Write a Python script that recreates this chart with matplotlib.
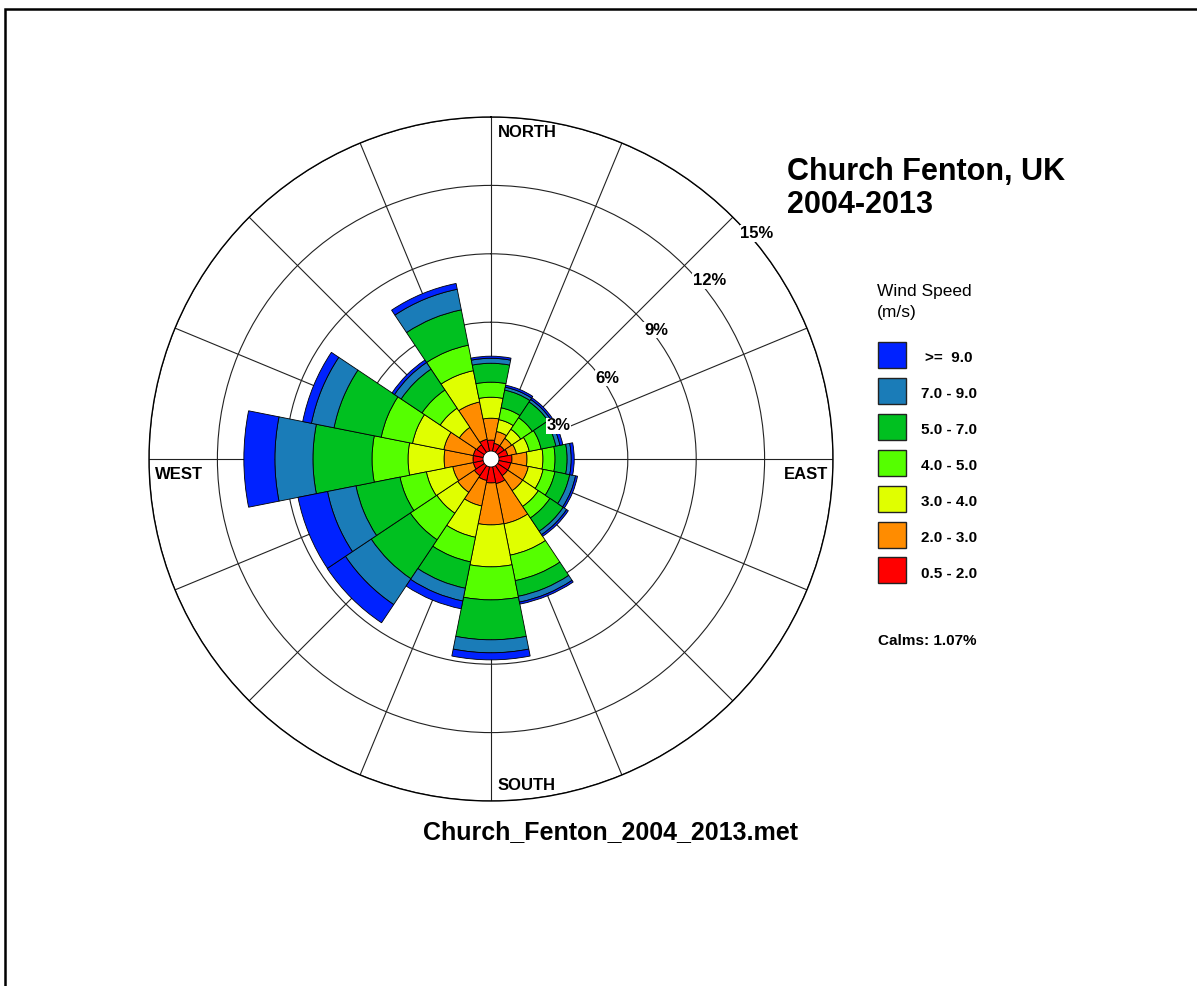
import numpy as np
import matplotlib
matplotlib.use("Agg")
import matplotlib.pyplot as plt
from matplotlib.patches import Rectangle

plt.rcParams['font.family'] = ['Liberation Sans', 'DejaVu Sans']

# wind directions, clockwise from north
directions = ["N", "NNE", "NE", "ENE", "E", "ESE", "SE", "SSE",
              "S", "SSW", "SW", "WSW", "W", "WNW", "NW", "NNW"]

# frequency (%) of each speed class per direction
freq_05_2 = [0.83, 0.70, 0.70, 0.75, 0.92, 0.88, 0.88, 1.10, 1.05, 0.96, 0.88, 0.79, 0.79, 0.79, 0.75, 0.88]
freq_2_3 = [0.96, 0.53, 0.39, 0.39, 0.66, 0.79, 0.79, 1.80, 1.84, 1.14, 0.88, 0.92, 1.27, 1.32, 0.92, 1.67]
freq_3_4 = [0.92, 0.53, 0.48, 0.57, 0.70, 0.66, 0.83, 1.40, 1.84, 1.40, 1.10, 1.18, 1.58, 1.40, 1.01, 1.40]
freq_4_5 = [0.66, 0.53, 0.61, 0.53, 0.53, 0.53, 0.61, 1.14, 1.45, 1.10, 1.40, 1.18, 1.58, 1.40, 0.96, 1.14]
freq_5_7 = [0.83, 0.79, 0.83, 0.66, 0.53, 0.66, 0.70, 0.70, 1.75, 1.18, 2.06, 1.97, 2.59, 2.11, 1.10, 1.58]
freq_7_9 = [0.22, 0.13, 0.13, 0.18, 0.18, 0.26, 0.18, 0.26, 0.57, 0.57, 1.36, 1.27, 1.67, 1.01, 0.35, 0.92]
freq_9_up = [0.09, 0.09, 0.09, 0.13, 0.13, 0.09, 0.09, 0.09, 0.31, 0.35, 0.96, 1.32, 1.36, 0.39, 0.13, 0.26]

speed_labels = ["0.5 - 2.0", "2.0 - 3.0", "3.0 - 4.0", "4.0 - 5.0",
                "5.0 - 7.0", "7.0 - 9.0", ">=  9.0"]
speed_colors = ["#ff0000", "#ff8c00", "#e0ff00", "#55ff00",
                "#00c020", "#1a7cb8", "#0022ff"]

ring_levels = [3, 6, 9, 12, 15]
calms = 1.07

W, H = 1197, 986
fig = plt.figure(figsize=(W / 100, H / 100), dpi=100)


def fx(x):
    return x / W


def fy(y):
    return 1 - y / H


# outer frame
fig.add_artist(Rectangle((fx(5), fy(1010)), fx(1220), 1001 / H, transform=fig.transFigure,
                         fill=False, edgecolor="black", linewidth=1.8))

# polar axes, centre at (491, 459) px, 15 % ring at 342 px
cx, cy, R = 491, 459, 342
ax = fig.add_axes([fx(cx - R), fy(cy + R), 2 * R / W, 2 * R / H], projection="polar")
ax.set_theta_zero_location("N")
ax.set_theta_direction(-1)
ax.set_ylim(0, 15)
ax.set_yticks(ring_levels)
ax.set_yticklabels([])
ax.set_xticks(np.deg2rad(np.arange(0, 360, 22.5)))
ax.set_xticklabels([])
ax.tick_params(length=0)
ax.grid(True, color="#222222", linewidth=0.8)
ax.set_axisbelow(True)
ax.spines["polar"].set_linewidth(1.0)

theta = np.deg2rad(np.arange(len(directions)) * 22.5)
bands = [freq_05_2, freq_2_3, freq_3_4, freq_4_5, freq_5_7, freq_7_9, freq_9_up]
bottoms = np.zeros(len(directions))
for vals, color in zip(bands, speed_colors):
    vals = np.array(vals)
    ax.bar(theta, vals, width=np.deg2rad(22.5), bottom=bottoms, color=color,
           edgecolor="black", linewidth=0.6, zorder=2)
    bottoms += vals

# white calm hole in the middle
th = np.linspace(0, 2 * np.pi, 200)
ax.fill(th, np.full_like(th, 0.35), facecolor="white", edgecolor="black", linewidth=0.6, zorder=3)

# ring percentage labels
pct_pos = [(63.8, 3.31), (55.3, 6.22), (52.0, 9.18), (50.8, 12.36), (49.7, 15.29)]
for lvl, (ang, rad) in zip(ring_levels, pct_pos):
    ax.text(np.deg2rad(ang), rad, f"{lvl}%", ha="center", va="center", fontsize=12,
            fontweight="bold", zorder=5, clip_on=False,
            bbox=dict(facecolor="white", edgecolor="none", pad=0.5))

# compass labels
fig.text(fx(498), fy(137), "NORTH", ha="left", va="baseline", fontsize=12, fontweight="bold")
fig.text(fx(828), fy(479), "EAST", ha="right", va="baseline", fontsize=12, fontweight="bold")
fig.text(fx(498), fy(790), "SOUTH", ha="left", va="baseline", fontsize=12, fontweight="bold")
fig.text(fx(155), fy(479), "WEST", ha="left", va="baseline", fontsize=12, fontweight="bold")

# title
fig.text(fx(787), fy(180), "Church Fenton, UK", ha="left", va="baseline", fontsize=22, fontweight="bold")
fig.text(fx(787), fy(213), "2004-2013", ha="left", va="baseline", fontsize=22, fontweight="bold")

# legend
fig.text(fx(877), fy(296), "Wind Speed", ha="left", va="baseline", fontsize=12.5)
fig.text(fx(877), fy(317), "(m/s)", ha="left", va="baseline", fontsize=12.5)
box_top, box_step = 342, 35.9
for i, (lab, color) in enumerate(zip(speed_labels[::-1], speed_colors[::-1])):
    top = box_top + i * box_step
    fig.add_artist(Rectangle((fx(878), fy(top + 26)), 28 / W, 26 / H, transform=fig.transFigure,
                             facecolor=color, edgecolor="#222222", linewidth=1.0))
    x_lab = 925 if lab.startswith(">") else 921
    fig.text(fx(x_lab), fy(top + 20.5), lab, ha="left", va="baseline", fontsize=11, fontweight="bold")

fig.text(fx(878), fy(645), f"Calms: {calms:.2f}%", ha="left", va="baseline", fontsize=11, fontweight="bold")

fig.text(fx(610), fy(839), "Church_Fenton_2004_2013.met", ha="center", va="baseline",
         fontsize=18, fontweight="bold")

fig.savefig("out.png", dpi=100, facecolor="white")
